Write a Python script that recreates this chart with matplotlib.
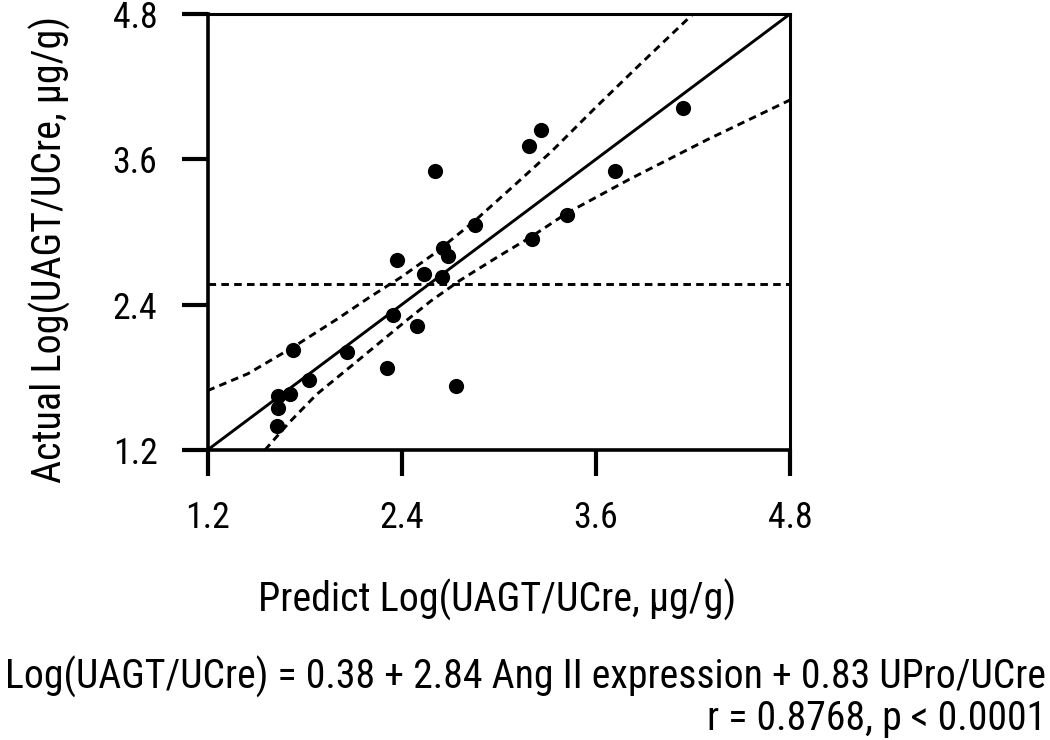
import matplotlib
matplotlib.use("Agg")
import matplotlib.pyplot as plt
from matplotlib import font_manager

names = {f.name for f in font_manager.fontManager.ttflist}
family = 'Roboto'
for cand in ['Roboto Condensed', 'Liberation Sans Narrow', 'Arial Narrow', 'Roboto']:
    if cand in names:
        family = cand
        break
plt.rcParams['font.family'] = [family, 'DejaVu Sans']

# Scatter data (predicted vs actual)
predicted = [4.14, 3.263, 3.187, 2.607, 3.717, 3.422, 2.852, 3.206, 2.654, 2.685,
             2.374, 2.538, 2.650, 2.345, 2.493, 1.728, 2.065, 2.312, 2.738, 1.825,
             1.637, 1.711, 1.637, 1.628]
actual = [4.02, 3.84, 3.71, 3.50, 3.504, 3.144, 3.06, 2.94, 2.867, 2.798,
          2.765, 2.654, 2.632, 2.316, 2.227, 2.028, 2.009, 1.876, 1.729, 1.779,
          1.643, 1.660, 1.543, 1.402]

# Identity line
identity_x = [1.2, 4.8]
identity_y = [1.2, 4.8]

# Confidence band
upper_x = [1.20, 1.45, 1.73, 2.00, 2.20, 2.40, 2.60, 2.85, 3.10, 3.33, 3.60, 3.87, 4.20]
upper_y = [1.69, 1.83, 2.05, 2.28, 2.46, 2.63, 2.82, 3.09, 3.39, 3.67, 4.03, 4.38, 4.80]
lower_x = [1.555, 1.70, 1.875, 2.14, 2.43, 2.58, 2.76, 3.00, 3.20, 3.42, 3.80, 4.285, 4.80]
lower_y = [1.20, 1.42, 1.66, 1.95, 2.27, 2.43, 2.60, 2.80, 2.96, 3.155, 3.43, 3.76, 4.09]

mean_actual = 2.568

ticks = [1.2, 2.4, 3.6, 4.8]
tick_labels = ["1.2", "2.4", "3.6", "4.8"]

xlabel = "Predict Log(UAGT/UCre, \u03bcg/g)"
ylabel = "Actual Log(UAGT/UCre, \u03bcg/g)"
eq_line1 = "Log(UAGT/UCre) = 0.38 + 2.84 Ang II expression + 0.83 UPro/UCre"
eq_line2 = "r = 0.8768, p < 0.0001"

W, H = 1050, 740
fig = plt.figure(figsize=(W / 100, H / 100), dpi=100)
ax = fig.add_axes([207.5 / W, 1 - 450 / H, (790 - 207.5) / W, (450 - 14) / H])

dash = (0, (2.6, 1.8))
ax.plot(identity_x, identity_y, color='black', lw=2.1, solid_capstyle='butt')
ax.plot(upper_x, upper_y, color='black', lw=2.1, linestyle=dash)
ax.plot(lower_x, lower_y, color='black', lw=2.1, linestyle=dash)
ax.axhline(mean_actual, color='black', lw=2.1, linestyle=dash)
ax.scatter(predicted, actual, s=120, color='black', zorder=3, linewidths=0)

ax.set_xlim(1.2, 4.8)
ax.set_ylim(1.2, 4.8)
ax.set_xticks(ticks)
ax.set_xticklabels(tick_labels)
ax.set_yticks(ticks)
ax.set_yticklabels(tick_labels)
ax.tick_params(axis='both', direction='out', length=19, width=3,
               labelsize=24, pad=17, color='black')
for side in ['left', 'bottom']:
    ax.spines[side].set_linewidth(2.6)
for side in ['top', 'right']:
    ax.spines[side].set_linewidth(2.2)

renderer = fig.canvas.get_renderer()


def fit_width(txt, target):
    bb = txt.get_window_extent(renderer=renderer)
    txt.set_fontsize(txt.get_fontsize() * target / bb.width)


t_x = fig.text(497 / W, 1 - 600 / H, xlabel, fontsize=24, ha='center', va='center')
fit_width(t_x, 479)
t_y = fig.text(50 / W, 1 - 249 / H, ylabel, fontsize=t_x.get_fontsize(),
               ha='center', va='center', rotation=90)
t_e1 = fig.text(1046 / W, 1 - 677 / H, eq_line1, fontsize=24, ha='right', va='center')
fit_width(t_e1, 1040)
t_e2 = fig.text(1046 / W, 1 - 718 / H, eq_line2, fontsize=t_e1.get_fontsize(),
                ha='right', va='center')

# Tick label size matched to reference width ("4.8" ~45 px)
probe = fig.text(0, 0, "4.8", fontsize=24)
pw = probe.get_window_extent(renderer=renderer).width
probe.remove()
ax.tick_params(labelsize=24 * 45 / pw)

fig.savefig("out.png", dpi=100)
